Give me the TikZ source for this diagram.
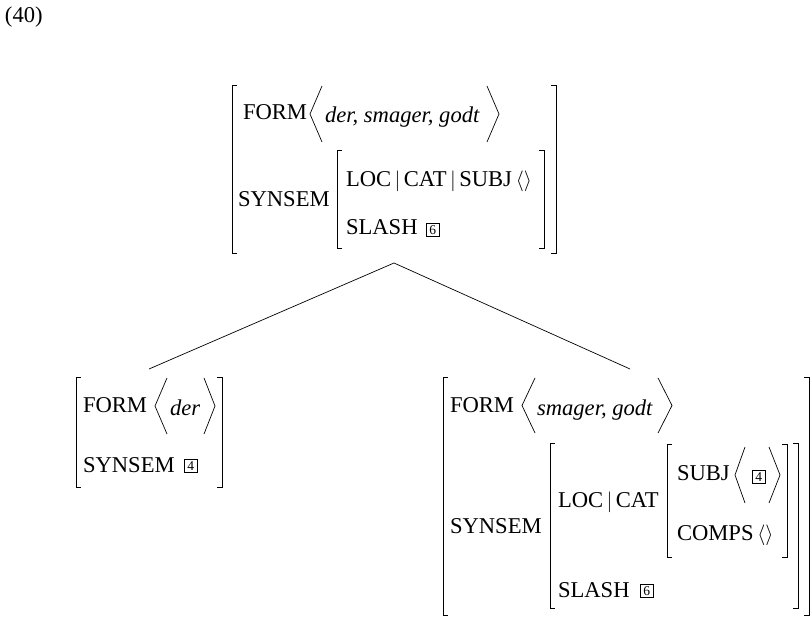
\documentclass[tikz,border=0pt]{standalone}
\usepackage{fontspec}
\setmainfont{Liberation Serif}
\newcommand{\Lbr}[3]{\draw[brk] ({#1+5},{#2}) -- ({#1},{#2}) -- ({#1},{#3}) -- ({#1+5},{#3});}
\newcommand{\Rbr}[3]{\draw[brk] ({#1-5},{#2}) -- ({#1},{#2}) -- ({#1},{#3}) -- ({#1-5},{#3});}
% angle: #1 tip x, #2 end x, #3 top, #4 bottom
\newcommand{\Ang}[4]{\draw[ang] ({#2},{#3}) -- ({#1},{(#3+#4)/2}) -- ({#2},{#4});}
\begin{document}
\begin{tikzpicture}[x=1pt,y=-1pt,
 txt/.style={anchor=base west, inner sep=0pt, outer sep=0pt, font=\fontsize{22.6}{27}\selectfont},
 itx/.style={txt, font=\fontsize{22.6}{27}\selectfont\itshape},
 brk/.style={line width=0.9pt, line cap=butt, line join=miter},
 ang/.style={line width=0.7pt, line join=miter},
 tree/.style={line width=0.7pt},
 tag/.style={draw, line width=0.6pt, anchor=south west, inner sep=0pt, minimum width=13pt, minimum height=13pt, font=\fontsize{13.5}{14}\selectfont}]
\useasboundingbox (0,0) rectangle (810,617);
\node[txt] (num) at (5,23) {(40)};
% ---------- top AVM ----------
\Lbr{232}{85}{253}
\Rbr{556}{85}{253}
\node[txt] (tform) at (243,120) {FORM};
\Ang{310}{322}{86}{142}
\node[itx] (tformv) at (325,123) {der, smager, godt};
\Ang{499}{487}{86}{142}
\node[txt] (tsyn) at (238,207) {SYNSEM};
\Lbr{337}{150}{248}
\Rbr{544}{150}{248}
\node[txt] (tloc) at (346,187) {LOC$\,|\,$CAT$\,|\,$SUBJ\,$\langle\rangle$};
\node[txt] (tslash) at (346,235) {SLASH};
\node[tag] (tsix) at (426,237) {6};
% ---------- tree ----------
\coordinate (apex) at (394,263);
\coordinate (lend) at (149,369);
\coordinate (rend) at (630,369);
\draw[tree] (lend) -- (apex) -- (rend);
% ---------- left AVM ----------
\Lbr{76}{377}{487}
\Rbr{222}{377}{487}
\node[txt] (lform) at (83,412) {FORM};
\Ang{155}{167}{378}{434}
\node[itx] (lformv) at (170,415) {der};
\Ang{215}{204}{378}{434}
\node[txt] (lsyn) at (83,472) {SYNSEM};
\node[tag] (lfour) at (184,473) {4};
% ---------- right AVM ----------
\Lbr{443}{377}{615}
\Rbr{809}{377}{615}
\node[txt] (rform) at (450,412) {FORM};
\Ang{522}{535}{378}{433}
\node[itx] (rformv) at (537,415) {smager, godt};
\Ang{672}{658}{378}{433}
\node[txt] (rsyn) at (450,533) {SYNSEM};
\Lbr{550}{443}{608}
\Rbr{798}{443}{608}
\node[txt] (rloc) at (558,507) {LOC$\,|\,$CAT};
\Lbr{667}{444}{557}
\Rbr{787}{444}{557}
\node[txt] (rsubj) at (677,480) {SUBJ};
\Ang{735}{745}{447}{503}
\node[tag] (rfour) at (752,484) {4};
\Ang{780}{769}{447}{503}
\node[txt] (rcomps) at (677,540) {COMPS\,$\langle\rangle$};
\node[txt] (rslash) at (558,597) {SLASH};
\node[tag] (rsix) at (640,598) {6};
\end{tikzpicture}
\end{document}
